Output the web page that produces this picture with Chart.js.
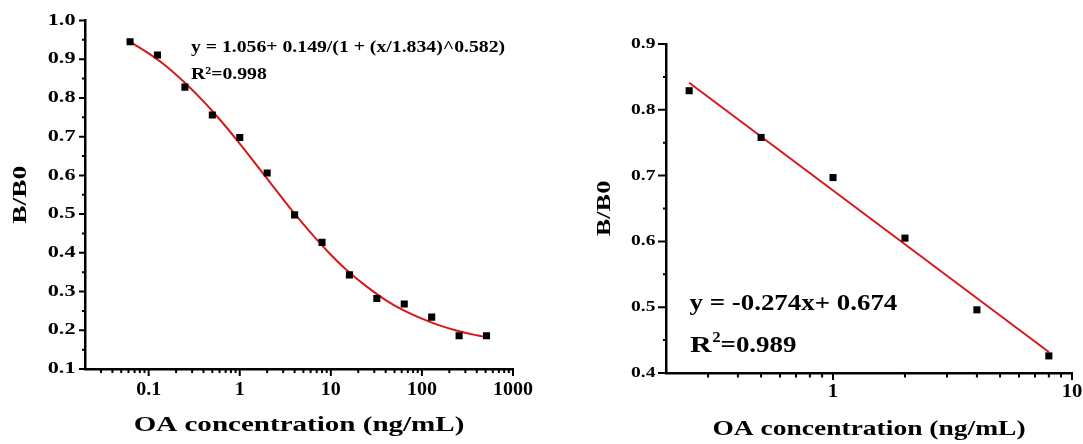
<!DOCTYPE html>
<html><head><meta charset="utf-8">
<script src="https://cdn.jsdelivr.net/npm/chart.js@4/dist/chart.umd.min.js"></script>
<style>
html,body{margin:0;padding:0;background:#fff;width:1083px;height:444px;overflow:hidden;position:relative}
#wrapL{position:absolute;left:0;top:0;width:560px;height:444px}
#wrapR{position:absolute;left:560px;top:0;width:620px;height:444px}
</style></head><body>
<div id="wrapL"><canvas id="cL"></canvas></div>
<div id="wrapR"><canvas id="cR"></canvas></div>
<script>
// ---------- data ----------
const leftConc = [0.0625, 0.125, 0.25, 0.5, 1, 2, 4, 8, 16, 32, 64, 128, 256, 512];
const leftBB0  = [0.945, 0.911, 0.828, 0.756, 0.698, 0.606, 0.498, 0.427, 0.343, 0.282, 0.268, 0.234, 0.186, 0.186];
const leftFitConc = [0.0625, 0.1, 0.15, 0.25, 0.4, 0.6, 1, 1.5, 2.5, 4, 6, 10, 15, 25, 40, 60, 100, 150, 250, 400, 512];
const leftFitBB0  = [0.945, 0.915, 0.885, 0.839, 0.791, 0.745, 0.682, 0.629, 0.562, 0.501, 0.452, 0.395, 0.355, 0.312, 0.278, 0.254, 0.230, 0.214, 0.198, 0.187, 0.182];
const rightConc = [0.25, 0.5, 1, 2, 4, 8];
const rightBB0  = [0.829, 0.758, 0.697, 0.605, 0.496, 0.426];
const rightFitConc = [0.25, 8];
const rightFitBB0  = [0.841, 0.432];

const leftXTicks = [0.1, 1, 10, 100, 1000];
const leftXTickLabels = ['0.1', '1', '10', '100', '1000'];
const leftXMinor = [0.03,0.04,0.05,0.06,0.07,0.08,0.09, 0.2,0.3,0.4,0.5,0.6,0.7,0.8,0.9, 2,3,4,5,6,7,8,9, 20,30,40,50,60,70,80,90, 200,300,400,500,600,700,800,900];
const leftYTicks = [0.1, 0.2, 0.3, 0.4, 0.5, 0.6, 0.7, 0.8, 0.9, 1.0];
const leftYTickLabels = ['0.1','0.2','0.3','0.4','0.5','0.6','0.7','0.8','0.9','1.0'];
const leftYMinor = [0.15, 0.25, 0.35, 0.45, 0.55, 0.65, 0.75, 0.85, 0.95];

const rightXTicks = [1, 10];
const rightXTickLabels = ['1', '10'];
const rightXMinor = [0.3,0.4,0.5,0.6,0.7,0.8,0.9, 2,3,4,5,6,7,8,9];
const rightYTicks = [0.4, 0.5, 0.6, 0.7, 0.8, 0.9];
const rightYTickLabels = ['0.4','0.5','0.6','0.7','0.8','0.9'];
const rightYMinor = [0.45, 0.55, 0.65, 0.75, 0.85];

const xTitle = 'OA concentration (ng/mL)';
const yTitle = 'B/B0';
const leftEq = ['y = 1.056+ 0.149/(1 + (x/1.834)^0.582)', 'R²=0.998'];
const rightEq = ['y = -0.274x+ 0.674', 'R', '2', '=0.989'];

// ---------- styling ----------
const FAMILY = "'Liberation Serif', 'Times New Roman', serif";
const RED = '#d81818';

// glyphs in the picture are wider than the font's natural shape: stretch along the reading direction
function patchStretch(ctx, map) {
  const orig = ctx.fillText;
  ctx.fillText = function (text, x, y, maxWidth) {
    const m = /(\d+(?:\.\d+)?)px/.exec(this.font);
    const s = m && map[m[1]] ? map[m[1]] : 1;
    this.save();
    this.translate(x, y);
    this.scale(s, 1);
    if (maxWidth === undefined || maxWidth === null) orig.call(this, text, 0, 0);
    else orig.call(this, text, 0, 0, maxWidth / s);
    this.restore();
  };
  ctx.__stretch = map;
}

const tickPlugin = {
  id: 'manualTicks',
  afterDraw(chart, args, o) {
    const {ctx, chartArea: a, scales: {x, y}} = chart;
    ctx.save();
    ctx.strokeStyle = '#000';
    ctx.lineWidth = 2;
    ctx.beginPath();
    const vx = (v, len) => { const p = x.getPixelForValue(v); ctx.moveTo(p, a.bottom); ctx.lineTo(p, a.bottom + len); };
    const vy = (v, len) => { const p = y.getPixelForValue(v); ctx.moveTo(a.left, p); ctx.lineTo(a.left - len, p); };
    o.xMajor.forEach(v => vx(v, o.xMajLen));
    o.xMinor.forEach(v => vx(v, o.xMinLen));
    o.yMajor.forEach(v => vy(v, o.yMajLen));
    o.yMinor.forEach(v => vy(v, o.yMinLen));
    ctx.stroke();
    ctx.restore();
  }
};

// equation text; items with chain:true continue right after the previous piece
const annoPlugin = {
  id: 'equation',
  afterDraw(chart, args, o) {
    const ctx = chart.ctx;
    const map = ctx.__stretch || {};
    ctx.save();
    ctx.fillStyle = '#000';
    ctx.textAlign = 'left';
    ctx.textBaseline = 'alphabetic';
    let endX = 0;
    o.items.forEach(it => {
      ctx.font = 'bold ' + it.size + 'px ' + FAMILY;
      const x = it.chain ? endX + (it.gap || 0) : it.x;
      ctx.fillText(it.text, x, it.y);
      endX = x + ctx.measureText(it.text).width * (map[String(it.size)] || 1);
    });
    ctx.restore();
  }
};

function makeChart(id, cfg) {
  const canvas = document.getElementById(id);
  const ctx = canvas.getContext('2d');
  patchStretch(ctx, cfg.stretch);
  const pts = (xs, ys) => xs.map((v, i) => ({x: v, y: ys[i]}));
  return new Chart(ctx, {
    type: 'scatter',
    data: {
      datasets: [
        {data: pts(cfg.fitX, cfg.fitY), showLine: true, borderColor: RED, borderWidth: 2,
         pointRadius: 0, cubicInterpolationMode: 'monotone', order: 2},
        {data: pts(cfg.ptX, cfg.ptY), showLine: false, pointStyle: 'rect', pointRadius: 5,
         backgroundColor: '#000', borderColor: '#000', borderWidth: 0, order: 1}
      ]
    },
    options: {
      responsive: true, maintainAspectRatio: false, animation: false, events: [],
      layout: {padding: cfg.padding},
      plugins: {
        legend: {display: false}, tooltip: {enabled: false},
        manualTicks: cfg.ticks,
        equation: {items: cfg.anno}
      },
      scales: {
        x: {
          type: 'logarithmic', min: cfg.xMin, max: cfg.xMax,
          afterBuildTicks: s => { s.ticks = cfg.xTicks.map(v => ({value: v})); },
          afterFit: s => { s.height = cfg.xHeight; },
          grid: {display: false, drawTicks: false, tickLength: 0},
          border: {display: true, color: '#000', width: 2.5},
          ticks: {autoSkip: false, maxRotation: 0, color: '#000', padding: cfg.xPad,
                  font: {family: FAMILY, weight: 'bold', size: cfg.xTickSize},
                  callback: (v, i) => cfg.xLabels[i]},
          title: {display: true, text: xTitle, color: '#000', padding: {top: 0, bottom: cfg.xTitlePad},
                  font: {family: FAMILY, weight: 'bold', size: 22}}
        },
        y: {
          type: 'linear', min: cfg.yMin, max: cfg.yMax,
          afterBuildTicks: s => { s.ticks = cfg.yTicks.map(v => ({value: v})); },
          afterFit: s => { s.width = cfg.yWidth; },
          grid: {display: false, drawTicks: false, tickLength: 0},
          border: {display: true, color: '#000', width: 2.5},
          ticks: {color: '#000', padding: cfg.yPad,
                  font: {family: FAMILY, weight: 'bold', size: cfg.yTickSize},
                  callback: (v, i) => cfg.yLabels[i]},
          title: {display: true, text: yTitle, color: '#000', padding: {top: cfg.yTitlePad, bottom: 0},
                  font: {family: FAMILY, weight: 'bold', size: cfg.yTitleSize}}
        }
      }
    },
    plugins: [tickPlugin, annoPlugin]
  });
}

makeChart('cL', {
  ptX: leftConc, ptY: leftBB0, fitX: leftFitConc, fitY: leftFitBB0,
  xMin: 0.02, xMax: 1000, yMin: 0.1, yMax: 1.0,
  xTicks: leftXTicks, xLabels: leftXTickLabels, yTicks: leftYTicks, yLabels: leftYTickLabels,
  padding: {left: 0, top: 20.5, right: 47, bottom: 0},
  xHeight: 75, yWidth: 85, xPad: 10, yPad: 9.5, xTitlePad: 5.5, yTitlePad: 9.5,
  xTickSize: 18.5, yTickSize: 16, yTitleSize: 19,
  stretch: {'16': 1.39, '18.5': 1.08, '22': 1.32, '19': 1.44, '17': 1.16},
  ticks: {xMajor: leftXTicks, xMinor: leftXMinor, yMajor: leftYTicks, yMinor: leftYMinor,
          xMajLen: 7, xMinLen: 4, yMajLen: 6, yMinLen: 3},
  anno: [{text: leftEq[0], x: 191, y: 52, size: 17}, {text: leftEq[1], x: 191, y: 78.5, size: 17}]
});

makeChart('cR', {
  ptX: rightConc, ptY: rightBB0, fitX: rightFitConc, fitY: rightFitBB0,
  xMin: 0.2, xMax: 10, yMin: 0.4, yMax: 0.9,
  xTicks: rightXTicks, xLabels: rightXTickLabels, yTicks: rightYTicks, yLabels: rightYTickLabels,
  padding: {left: 0, top: 44, right: 108, bottom: 0},
  xHeight: 71, yWidth: 106, xPad: 7.5, yPad: 10.5, xTitlePad: 1, yTitlePad: 33.5,
  xTickSize: 19, yTickSize: 15.5, yTitleSize: 19.5,
  stretch: {'15.5': 1.26, '19': 1.09, '22': 1.25, '19.5': 1.35, '23': 1.17, '24': 1.25, '15': 1.12},
  ticks: {xMajor: rightXTicks, xMinor: rightXMinor, yMajor: rightYTicks, yMinor: rightYMinor,
          xMajLen: 7, xMinLen: 4.5, yMajLen: 8, yMinLen: 3},
  anno: [{text: rightEq[0], x: 129.5, y: 310, size: 23},
         {text: rightEq[1], x: 130, y: 351.5, size: 24},
         {text: rightEq[2], chain: true, gap: 0.5, y: 341.5, size: 15},
         {text: rightEq[3], chain: true, gap: 0, y: 351.5, size: 23}]
});
</script>
</body></html>
